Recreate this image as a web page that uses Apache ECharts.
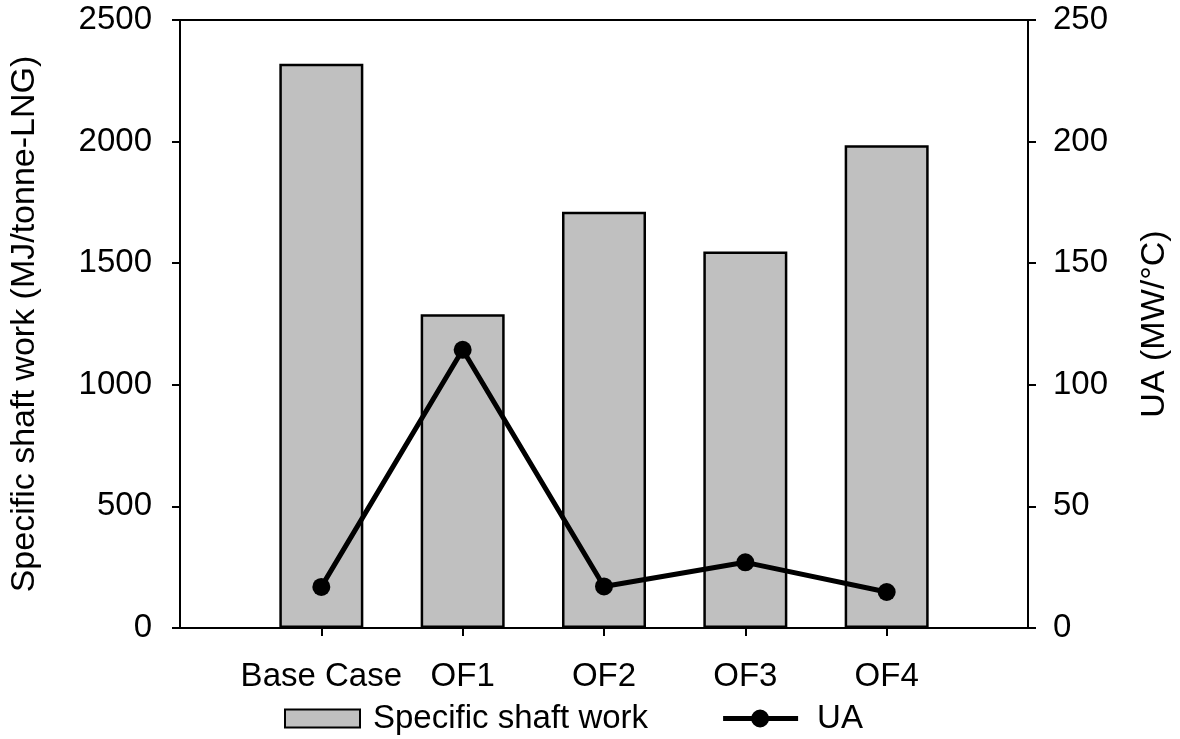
<!DOCTYPE html>
<html>
<head>
<meta charset="utf-8">
<script src="https://cdn.jsdelivr.net/npm/echarts@6/dist/echarts.min.js"></script>
<style>html,body{margin:0;padding:0;background:#fff;}#c{width:1180px;height:739px;}</style>
</head>
<body>
<div id="c"></div>
<script>
const categories = ['Base Case', 'OF1', 'OF2', 'OF3', 'OF4'];
const shaftWork = [2320, 1290, 1712, 1548, 1985];
const ua = [16.9, 114.4, 17.1, 27.0, 14.8];
const leftTicks = { min: 0, max: 2500, interval: 500 };
const rightTicks = { min: 0, max: 250, interval: 50 };

// pad with empty slots at both ends (the axis spans one empty slot each side)
const xCats = [''].concat(categories, ['']);
const barData = ['-'].concat(shaftWork, ['-']);
const lineData = ['-'].concat(ua, ['-']);

const FONT = '"Liberation Sans", Arial, sans-serif';
const FS = 33;
// legend icon for the line series: a thick line with a dot in the middle (75 x 18 box)
const lineIcon = 'path://M0,6.5h75v5h-75z M28,9a9,9 0 1,1 18,0a9,9 0 1,1 -18,0z';

const chart = echarts.init(document.getElementById('c'), null, { renderer: 'canvas' });
chart.setOption({
  animation: false,
  backgroundColor: '#fff',
  textStyle: { fontFamily: FONT, color: '#000' },
  grid: { left: 180, right: 152, top: 20, bottom: 111, show: true, borderColor: '#000', borderWidth: 2, backgroundColor: 'transparent' },
  legend: {
    left: 279, top: 697,
    itemWidth: 75, itemHeight: 18, itemGap: 75,
    textStyle: { fontFamily: FONT, fontSize: FS, color: '#000', padding: [0, 0, 0, 8] },
    data: [
      { name: 'Specific shaft work', icon: 'rect', itemStyle: { color: '#c0c0c0', borderColor: '#000', borderWidth: 2 } },
      { name: 'UA', icon: lineIcon, itemStyle: { color: '#000', borderWidth: 0 }, lineStyle: { width: 0 },
        textStyle: { fontFamily: FONT, fontSize: FS, color: '#000', padding: [0, 0, 0, 14] } }
    ]
  },
  xAxis: {
    type: 'category', data: xCats, boundaryGap: false,
    axisLine: { lineStyle: { color: '#000', width: 2 } },
    axisTick: { length: 8, lineStyle: { color: '#000', width: 2 }, interval: function (i) { return i >= 1 && i <= categories.length; } },
    axisLabel: { fontFamily: FONT, fontSize: FS, color: '#000', margin: 32, interval: 0 },
    splitLine: { show: false }
  },
  yAxis: [
    {
      type: 'value', min: leftTicks.min, max: leftTicks.max, interval: leftTicks.interval,
      name: 'Specific shaft work (MJ/tonne-LNG)', nameLocation: 'middle', nameGap: 138,
      nameTextStyle: { fontFamily: FONT, fontSize: 34, color: '#000' },
      axisLine: { show: true, lineStyle: { color: '#000', width: 2 } },
      axisTick: { show: true, length: 8, lineStyle: { color: '#000', width: 2 } },
      axisLabel: { fontFamily: FONT, fontSize: FS, color: '#000', margin: 28, formatter: function (v) { return String(v); } },
      splitLine: { show: false }
    },
    {
      type: 'value', min: rightTicks.min, max: rightTicks.max, interval: rightTicks.interval, position: 'right',
      name: 'UA (MW/°C)', nameLocation: 'middle', nameGap: 110,
      nameTextStyle: { fontFamily: FONT, fontSize: 34, color: '#000' },
      axisLine: { show: true, lineStyle: { color: '#000', width: 2 } },
      axisTick: { show: true, length: 8, lineStyle: { color: '#000', width: 2 } },
      axisLabel: { fontFamily: FONT, fontSize: FS, color: '#000', margin: 25, formatter: function (v) { return String(v); } },
      splitLine: { show: false }
    }
  ],
  series: [
    {
      name: 'Specific shaft work', type: 'bar', yAxisIndex: 0, data: barData, barWidth: 84,
      itemStyle: { color: '#c0c0c0', borderColor: '#000', borderWidth: 2.5 }
    },
    {
      name: 'UA', type: 'line', yAxisIndex: 1, data: lineData,
      symbol: 'circle', symbolSize: 18,
      lineStyle: { color: '#000', width: 5 },
      itemStyle: { color: '#000' }
    }
  ]
});
</script>
</body>
</html>
